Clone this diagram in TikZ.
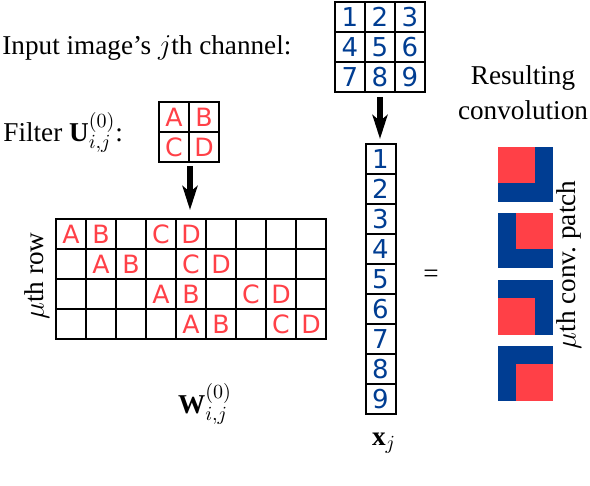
\documentclass[tikz,border=0pt]{standalone}
\usepackage{fontspec}
\setmainfont{Liberation Serif}
\newfontfamily\cellfont{DejaVu Sans}
\usetikzlibrary{arrows.meta}
\definecolor{cred}{RGB}{255,64,71}
\definecolor{cblue}{RGB}{0,61,146}
\begin{document}
\begin{tikzpicture}[x=0.5pt,y=-0.5pt,
  cell/.style={draw, line width=1pt, minimum size=15pt, inner sep=0pt,
    font=\cellfont\fontsize{12.6}{12.6}\selectfont},
  lettercell/.style={cell, text=cred},
  digitcell/.style={cell, text=cblue, font=\cellfont\fontsize{13}{13}\selectfont},
  lbl/.style={inner sep=0pt, font=\fontsize{13.6}{16}\selectfont},
  bigarrow/.style={line width=3pt, -{Stealth[length=12pt,width=7.5pt,inset=3pt]}},
  patch/.style={fill=cblue},
  patchred/.style={fill=cred}]
\useasboundingbox (0,0) rectangle (590,486);
% input 3x3 grid
\foreach \r in {1,2,3}{
  \foreach \c in {1,2,3}{
    \pgfmathtruncatemacro{\n}{(\r-1)*3+\c}
    \node[digitcell] (g-\r-\c) at ({320+30*\c},{-13+30*\r}) {\n};
  }
}
% filter 2x2
\node[lettercell] (f-1-1) at (174,117) {A};
\node[lettercell] (f-1-2) at (204,117) {B};
\node[lettercell] (f-2-1) at (174,147) {C};
\node[lettercell] (f-2-2) at (204,147) {D};
% big matrix
\foreach \r in {1,...,4}{
  \foreach \c in {1,...,9}{
    \node[lettercell] (m-\r-\c) at ({41+30*\c},{204+30*\r}) {};
  }
}
\foreach \r/\b in {1/1,2/2,3/4,4/5}{
  \pgfmathtruncatemacro{\ca}{\b}
  \pgfmathtruncatemacro{\cb}{\b+1}
  \pgfmathtruncatemacro{\cc}{\b+3}
  \pgfmathtruncatemacro{\cd}{\b+4}
  \node[lettercell, draw=none] (ma-\r) at (m-\r-\ca) {A};
  \node[lettercell, draw=none] (mb-\r) at (m-\r-\cb) {B};
  \node[lettercell, draw=none] (mc-\r) at (m-\r-\cc) {C};
  \node[lettercell, draw=none] (md-\r) at (m-\r-\cd) {D};
}
% column vector
\foreach \k in {1,...,9}{
  \node[digitcell] (v-\k) at (380.5,{129+30*\k}) {\k};
}
% arrows
\coordinate (fa) at (190,166);
\coordinate (fb) at (190,210);
\draw[bigarrow] (fa) -- (fb);
\coordinate (va) at (380,97);
\coordinate (vb) at (380,139);
\draw[bigarrow] (va) -- (vb);
% labels
\node[lbl, anchor=base west] (inlbl) at (2,55) {Input image's $j$th channel:};
\node[lbl, anchor=base west] (filtlbl) at (3,142) {Filter $\mathbf{U}^{(0)}_{i,j}$:};
\node[lbl, anchor=base] (res1) at (523,85) {Resulting};
\node[lbl, anchor=base] (res2) at (523,120) {convolution};
\node[lbl, rotate=90] (rowlbl) at (37,276) {$\mu$th row};
\node[lbl, rotate=90] (patchlbl) at (569,265) {$\mu$th conv.\ patch};
\node[lbl] (wlbl) at (205,404) {$\mathbf{W}^{(0)}_{i,j}$};
\node[lbl] (xlbl) at (384,443) {$\mathbf{x}_j$};
\node[lbl] (eq) at (431,276) {=};
% resulting patches
\fill[patch] (498,147) rectangle (553,202);
\fill[patchred] (498,147) rectangle (535,183);
\fill[patch] (498,213) rectangle (553,268);
\fill[patchred] (516,213) rectangle (553,249);
\fill[patch] (498,280) rectangle (553,335);
\fill[patchred] (498,298) rectangle (535,335);
\fill[patch] (498,346) rectangle (553,401);
\fill[patchred] (516,364) rectangle (553,401);
\end{tikzpicture}
\end{document}
